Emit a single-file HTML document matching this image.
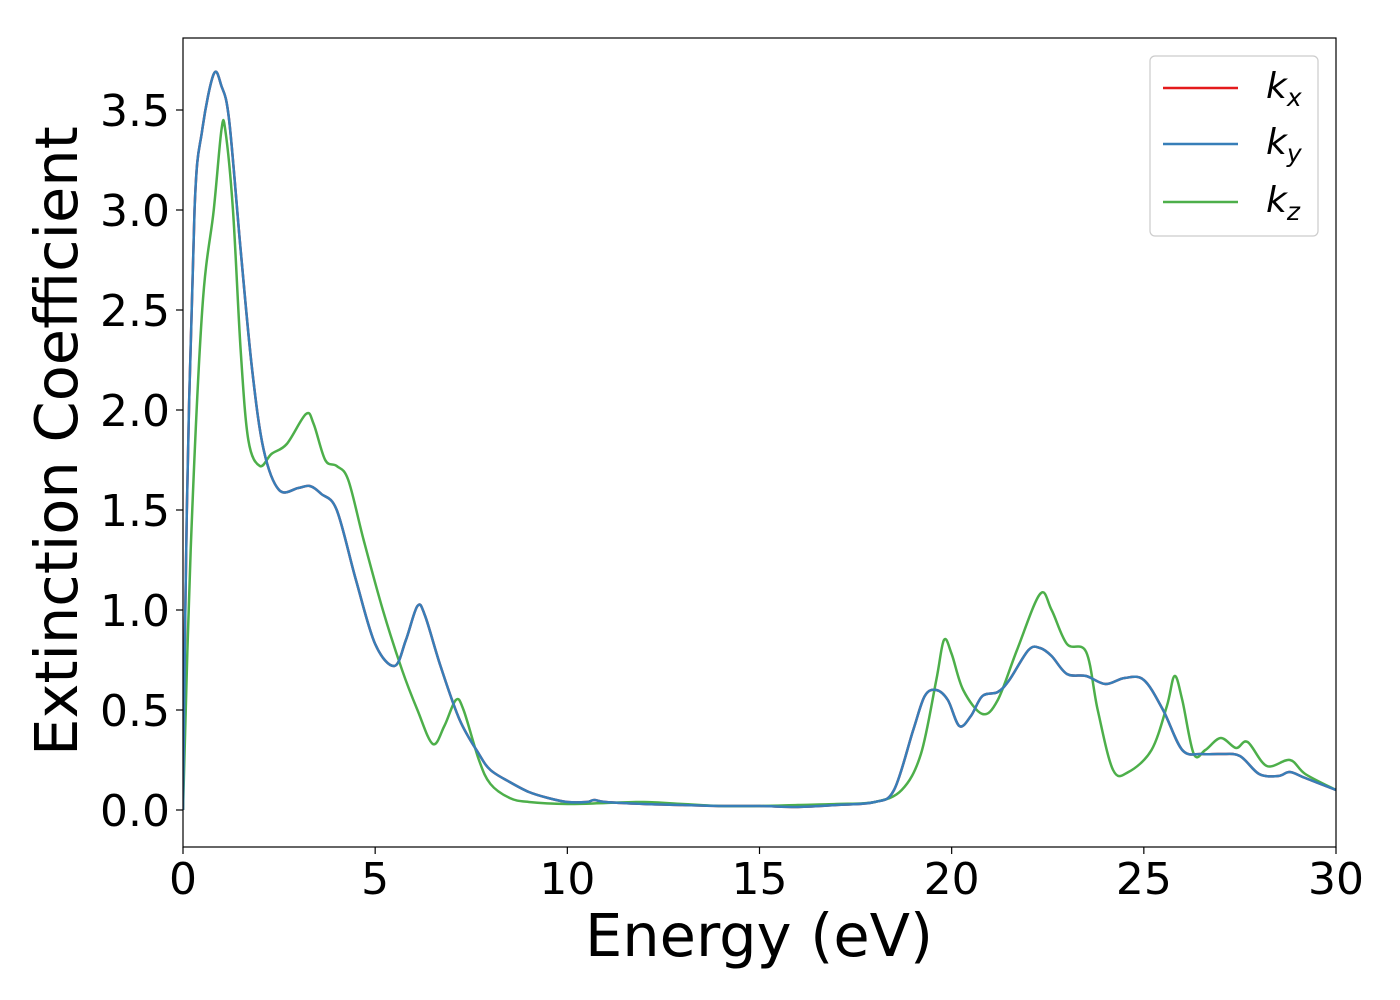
<!DOCTYPE html>
<html><head><meta charset="utf-8"><style>body{margin:0;background:#fff}svg{display:block;font-family:"DejaVu Sans","Liberation Sans",sans-serif}</style></head>
<body>
<svg id="chart" width="1400" height="1000" viewBox="0 0 1400 1000"></svg>
<script>
const xTicks=[0,5,10,15,20,25,30];
const yTicks=[0.0,0.5,1.0,1.5,2.0,2.5,3.0,3.5];
const seriesNames=["kx","ky","kz"];
const kxyE=[0,0.1,0.3,0.5,0.8,1.0,1.2,1.5,1.8,2.1,2.5,3.0,3.3,3.6,4.0,4.5,5.0,5.5,5.8,6.1,6.3,6.7,7.2,7.7,8.0,8.5,9.0,9.5,10,10.5,10.7,11,12,13,14,15,16,17,18,18.5,19,19.3,19.6,19.9,20.2,20.5,20.8,21.2,21.5,22,22.3,22.6,23,23.5,24,24.5,25,25.5,26,26.5,27,27.5,28,28.5,28.8,29.2,30];
const kxyV=[0,1.5,3.0,3.4,3.68,3.62,3.45,2.8,2.2,1.8,1.6,1.61,1.62,1.58,1.5,1.15,0.83,0.72,0.85,1.02,0.97,0.72,0.45,0.28,0.2,0.14,0.09,0.06,0.04,0.04,0.05,0.04,0.03,0.025,0.02,0.02,0.015,0.025,0.04,0.1,0.4,0.57,0.6,0.55,0.42,0.47,0.57,0.59,0.65,0.8,0.81,0.77,0.68,0.67,0.63,0.66,0.65,0.5,0.3,0.28,0.28,0.27,0.18,0.17,0.19,0.16,0.1];
const kzE=[0,0.2,0.5,0.8,1.0,1.1,1.3,1.5,1.7,2.0,2.3,2.7,3.2,3.4,3.7,4.0,4.3,4.7,5.2,5.7,6.1,6.5,6.8,7.1,7.3,7.7,8.0,8.5,9,10,11,12,13,14,15,16,17,18,18.7,19.2,19.6,19.8,20.0,20.3,20.8,21.2,21.7,22.3,22.6,23,23.5,23.8,24.2,24.6,25.2,25.6,25.8,26.0,26.3,26.6,27,27.4,27.7,28.2,28.8,29.2,30];
const kzV=[0,1.3,2.5,3.0,3.40,3.40,3.0,2.3,1.85,1.72,1.78,1.83,1.98,1.93,1.75,1.72,1.65,1.35,1.0,0.7,0.5,0.33,0.42,0.55,0.5,0.25,0.13,0.06,0.04,0.03,0.035,0.04,0.03,0.02,0.02,0.025,0.03,0.04,0.1,0.28,0.65,0.85,0.78,0.6,0.48,0.55,0.8,1.08,1.0,0.83,0.79,0.5,0.2,0.19,0.3,0.52,0.67,0.55,0.28,0.3,0.36,0.31,0.34,0.22,0.25,0.18,0.1];
const L=183,R=1336,T=38,B=847;
const X=v=>L+(v-0)/30*(R-L);
const Y=v=>810-v*200;
const svg=document.getElementById('chart');const NS="http://www.w3.org/2000/svg";
function mk(t,a,p){const e=document.createElementNS(NS,t);for(const k in a)e.setAttribute(k,a[k]);(p||svg).appendChild(e);return e;}
function path(E,V){const p=E.map((e,i)=>[X(e),Y(V[i])]);let d=`M${p[0][0]},${p[0][1]}`;for(let i=0;i<p.length-1;i++){const p0=p[Math.max(0,i-1)],p1=p[i],p2=p[i+1],p3=p[Math.min(p.length-1,i+2)];d+=` C${p1[0]+(p2[0]-p0[0])/6},${p1[1]+(p2[1]-p0[1])/6} ${p2[0]-(p3[0]-p1[0])/6},${p2[1]-(p3[1]-p1[1])/6} ${p2[0]},${p2[1]}`;}return d;}
const g=mk('g',{'clip-path':'url(#c)'});
const cp=mk('clipPath',{id:'c'});mk('rect',{x:L,y:T,width:R-L,height:B-T},cp);
let e;
e=mk('path',{d:path(kxyE,kxyV),fill:'none',stroke:'#e41a1c','stroke-width':2.5},g);

e=mk('path',{d:path(kzE,kzV),fill:'none',stroke:'#4daf4a','stroke-width':2.5},g);

e=mk('path',{d:path(kxyE,kxyV),fill:'none',stroke:'#377eb8','stroke-width':2.5},g);

e=mk('rect',{x:L,y:T,width:R-L,height:B-T,fill:'none',stroke:'#000','stroke-width':1.2});

xTicks.forEach(t=>{mk('line',{x1:X(t),x2:X(t),y1:B,y2:B+7,stroke:'#000','stroke-width':1.2});
e=mk('text',{x:X(t),y:894,'font-size':44,'text-anchor':'middle'});e.textContent=t;
});
yTicks.forEach(t=>{mk('line',{x1:L-7,x2:L,y1:Y(t),y2:Y(t),stroke:'#000','stroke-width':1.2});
e=mk('text',{x:170,y:Y(t)+16,'font-size':44,'text-anchor':'end'});e.textContent=t.toFixed(1);
});
e=mk('text',{x:759,y:956,'font-size':59,'text-anchor':'middle'});e.textContent='Energy (eV)';

e=mk('text',{x:77,y:441,'font-size':59,'text-anchor':'middle',transform:'rotate(-90 77 441)'});e.textContent='Extinction Coefficient';

const lg=mk('g',{});
mk('rect',{x:1150,y:56,width:168,height:180,rx:5,fill:'#fff',stroke:'#ccc','stroke-width':1.2},lg);
const cols=['#e41a1c','#377eb8','#4daf4a'],subs=['x','y','z'],ys=[88,144,202];
seriesNames.forEach((n,i)=>{mk('line',{x1:1163,x2:1238,y1:ys[i],y2:ys[i],stroke:cols[i],'stroke-width':2.5},lg);
const t=mk('text',{x:1266,y:ys[i]+10,'font-size':36,'font-style':'italic'},lg);

const a=mk('tspan',{},t);a.textContent='k';const b=mk('tspan',{'font-size':25,dy:8},t);b.textContent=subs[i];});
</script>
</body></html>
